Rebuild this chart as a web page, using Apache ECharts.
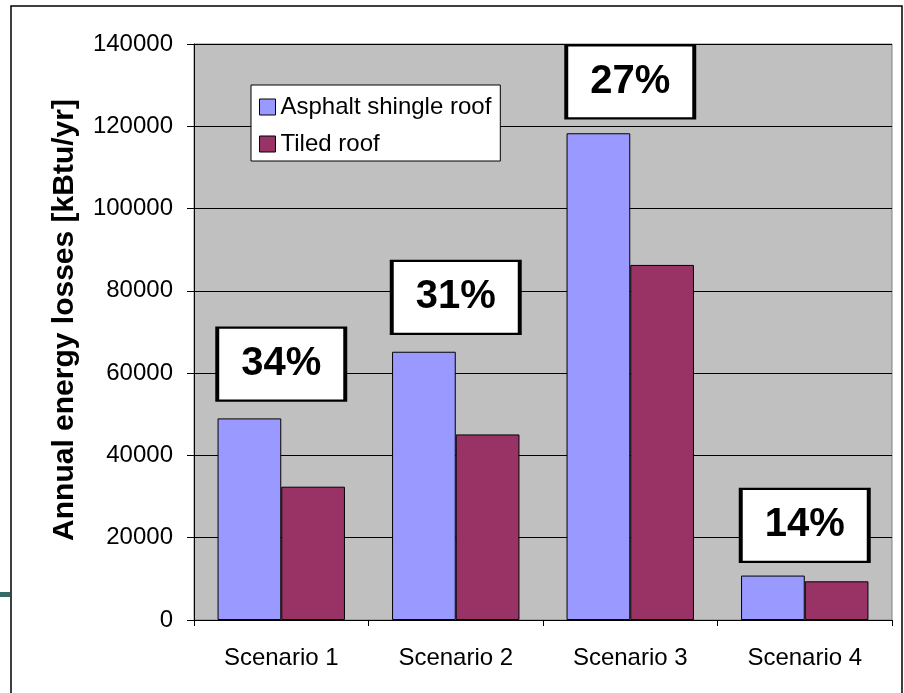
<!DOCTYPE html>
<html>
<head>
    <meta charset="utf-8">
    <title>Annual energy losses</title>
    <script src="https://cdn.jsdelivr.net/npm/echarts@6/dist/echarts.min.js"></script>
    <style>
        html, body { margin: 0; padding: 0; background: #fff; }
        #chart { width: 904px; height: 693px; }
    </style>
</head>
<body>
<div id="chart"></div>
<script type="text/javascript">
    // data
    const scenarios = ['Scenario 1', 'Scenario 2', 'Scenario 3', 'Scenario 4'];
    const asphaltRoof = [49000, 65200, 118300, 10800];
    const tiledRoof = [32400, 45100, 86300, 9400];
    // saving labels and where their boxes sit (category, value)
    const savingText = ['34%', '31%', '27%', '14%'];
    const savingBoxY = [62200, 78400, 130800, 23000];

    const font = 'Liberation Sans, Arial, sans-serif';
    const chart = echarts.init(document.getElementById('chart'));

    const option = {
        animation: false,
        backgroundColor: '#fff',
        textStyle: {fontFamily: font},
        grid: {
            left: 194, right: 12, top: 44, bottom: 73,
            show: true,
            backgroundColor: '#c0c0c0',
            borderColor: '#808080',
            borderWidth: 1
        },
        legend: {
            data: ['Asphalt shingle roof', 'Tiled roof'],
            orient: 'vertical',
            left: 251, top: 85,
            backgroundColor: '#fff',
            borderColor: '#000',
            borderWidth: 1,
            padding: [10, 9, 5, 8],
            itemWidth: 16, itemHeight: 16,
            itemGap: 13,
            icon: 'rect',
            itemStyle: {borderColor: '#000', borderWidth: 1},
            textStyle: {fontSize: 24, color: '#000', lineHeight: 24, fontFamily: font}
        },
        xAxis: {
            type: 'category',
            data: scenarios,
            axisLine: {lineStyle: {color: '#000', width: 1}},
            axisTick: {show: true, length: 6, lineStyle: {color: '#000'}},
            axisLabel: {fontSize: 24, color: '#000', margin: 26, fontFamily: font},
            splitLine: {show: false}
        },
        yAxis: {
            type: 'value',
            min: 0, max: 140000, interval: 20000,
            name: 'Annual energy losses [kBtu/yr]',
            nameLocation: 'middle',
            nameGap: 114,
            nameTextStyle: {
                fontSize: 30, fontWeight: 'bold', color: '#000', fontFamily: font,
                padding: [0, 0, 0, 24]
            },
            axisLine: {show: true, lineStyle: {color: '#000', width: 1}},
            axisTick: {show: true, length: 7, lineStyle: {color: '#000'}},
            axisLabel: {
                fontSize: 24, color: '#000', margin: 21, fontFamily: font,
                formatter: function (v) { return String(v); }
            },
            splitLine: {show: true, lineStyle: {color: '#000', width: 1}}
        },
        series: [
            {
                name: 'Asphalt shingle roof',
                type: 'bar',
                data: asphaltRoof,
                barGap: '0%',
                barCategoryGap: '27%',
                itemStyle: {color: '#9999ff', borderColor: '#000', borderWidth: 1}
            },
            {
                name: 'Tiled roof',
                type: 'bar',
                data: tiledRoof,
                itemStyle: {color: '#993366', borderColor: '#000', borderWidth: 1}
            },
            {
                name: 'saving',
                type: 'scatter',
                clip: false,
                z: 5,
                symbol: 'rect',
                symbolSize: [128, 73],
                data: scenarios.map(function (s, i) {
                    return {value: [s, savingBoxY[i]], label: {formatter: savingText[i]}};
                }),
                itemStyle: {color: '#fff', borderColor: '#000', borderWidth: 3, opacity: 1},
                label: {
                    show: true,
                    position: 'inside',
                    fontSize: 40,
                    fontWeight: 'bold',
                    color: '#000',
                    fontFamily: font
                },
                emphasis: {disabled: true}
            }
        ],
        graphic: [
            {
                type: 'rect',
                shape: {x: 11, y: 6, width: 891, height: 700},
                style: {fill: null, stroke: '#000', lineWidth: 1.5},
                silent: true
            },
            {
                type: 'rect',
                shape: {x: 0, y: 592, width: 10, height: 5},
                style: {fill: '#336b6b'},
                silent: true
            }
        ]
    };
    chart.setOption(option);
    window.addEventListener('resize', chart.resize);
</script>
</body>
</html>
